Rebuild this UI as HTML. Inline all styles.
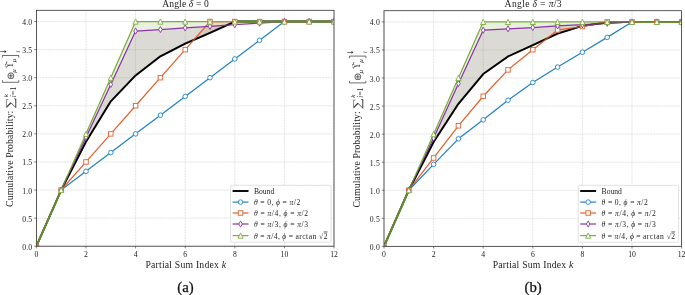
<!DOCTYPE html>
<html><head><meta charset="utf-8"><title>Figure</title>
<style>html,body{margin:0;padding:0;background:#fff}svg{display:block}</style>
</head><body>
<svg width="685" height="295" viewBox="0 0 685 295" font-family='"Liberation Serif", serif'><g>
<line x1="36.40" y1="10.3" x2="36.40" y2="246.2" stroke="#d2d2d2" stroke-width="0.6" stroke-dasharray="2.05 0.75"/>
<line x1="86.00" y1="10.3" x2="86.00" y2="246.2" stroke="#d2d2d2" stroke-width="0.6" stroke-dasharray="2.05 0.75"/>
<line x1="135.60" y1="10.3" x2="135.60" y2="246.2" stroke="#d2d2d2" stroke-width="0.6" stroke-dasharray="2.05 0.75"/>
<line x1="185.20" y1="10.3" x2="185.20" y2="246.2" stroke="#d2d2d2" stroke-width="0.6" stroke-dasharray="2.05 0.75"/>
<line x1="234.80" y1="10.3" x2="234.80" y2="246.2" stroke="#d2d2d2" stroke-width="0.6" stroke-dasharray="2.05 0.75"/>
<line x1="284.40" y1="10.3" x2="284.40" y2="246.2" stroke="#d2d2d2" stroke-width="0.6" stroke-dasharray="2.05 0.75"/>
<line x1="334.00" y1="10.3" x2="334.00" y2="246.2" stroke="#d2d2d2" stroke-width="0.6" stroke-dasharray="2.05 0.75"/>
<line x1="36.4" y1="246.20" x2="334.0" y2="246.20" stroke="#d2d2d2" stroke-width="0.6" stroke-dasharray="2.05 0.75"/>
<line x1="36.4" y1="218.12" x2="334.0" y2="218.12" stroke="#d2d2d2" stroke-width="0.6" stroke-dasharray="2.05 0.75"/>
<line x1="36.4" y1="190.03" x2="334.0" y2="190.03" stroke="#d2d2d2" stroke-width="0.6" stroke-dasharray="2.05 0.75"/>
<line x1="36.4" y1="161.95" x2="334.0" y2="161.95" stroke="#d2d2d2" stroke-width="0.6" stroke-dasharray="2.05 0.75"/>
<line x1="36.4" y1="133.87" x2="334.0" y2="133.87" stroke="#d2d2d2" stroke-width="0.6" stroke-dasharray="2.05 0.75"/>
<line x1="36.4" y1="105.78" x2="334.0" y2="105.78" stroke="#d2d2d2" stroke-width="0.6" stroke-dasharray="2.05 0.75"/>
<line x1="36.4" y1="77.70" x2="334.0" y2="77.70" stroke="#d2d2d2" stroke-width="0.6" stroke-dasharray="2.05 0.75"/>
<line x1="36.4" y1="49.62" x2="334.0" y2="49.62" stroke="#d2d2d2" stroke-width="0.6" stroke-dasharray="2.05 0.75"/>
<line x1="36.4" y1="21.53" x2="334.0" y2="21.53" stroke="#d2d2d2" stroke-width="0.6" stroke-dasharray="2.05 0.75"/>
<clipPath id="c0"><rect x="36.4" y="10.3" width="297.6" height="235.89999999999998"/></clipPath>
<g clip-path="url(#c0)">
<polygon points="193.88,39.79 210.00,21.53 234.18,21.53 234.18,21.81 210.00,32.77 193.88,39.89" fill="#e0622f" fill-opacity="0.17"/>
<polygon points="61.82,188.71 110.80,84.44 135.60,31.08 226.12,25.29 226.12,25.47 210.00,32.77 185.20,43.72 160.40,56.36 135.60,75.45 110.80,101.29 86.00,141.73 61.82,188.83" fill="#8a35a5" fill-opacity="0.135"/>
<polygon points="61.82,188.63 135.60,21.53 234.18,21.53 234.18,21.81 210.00,32.77 185.20,43.72 160.40,56.36 135.60,75.45 110.80,101.29 86.00,141.73 61.82,188.83" fill="#7aad3c" fill-opacity="0.17"/>
<polyline points="36.40,246.20 61.20,190.03 86.00,141.73 110.80,101.29 135.60,75.45 160.40,56.36 185.20,43.72 210.00,32.77 234.80,21.53 259.60,21.53 284.40,21.53 309.20,21.53 334.00,21.53" fill="none" stroke="#000" stroke-width="1.9" stroke-linejoin="round"/>
<polyline points="36.40,246.20 61.20,190.03 86.00,171.31 110.80,152.59 135.60,133.87 160.40,115.14 185.20,96.42 210.00,77.70 234.80,58.98 259.60,40.26 284.40,21.53 309.20,21.53 334.00,21.53" fill="none" stroke="#2383c6" stroke-width="1.25" stroke-linejoin="round"/>
<polyline points="36.40,246.20 61.20,190.03 86.00,161.95 110.80,133.87 135.60,105.78 160.40,77.70 185.20,49.62 210.00,21.53 234.80,21.53 259.60,21.53 284.40,21.53 309.20,21.53 334.00,21.53" fill="none" stroke="#e0622f" stroke-width="1.25" stroke-linejoin="round"/>
<polyline points="36.40,246.20 61.20,190.03 86.00,137.24 110.80,84.44 135.60,31.08 160.40,29.51 185.20,27.88 210.00,26.31 234.80,24.73 259.60,23.11 284.40,21.53 309.20,21.53 334.00,21.53" fill="none" stroke="#8a35a5" stroke-width="1.25" stroke-linejoin="round"/>
<polyline points="36.40,246.20 61.20,190.03 86.00,133.87 110.80,77.70 135.60,21.53 160.40,21.53 185.20,21.53 210.00,21.53 234.80,21.53 259.60,21.53 284.40,21.53 309.20,21.53 334.00,21.53" fill="none" stroke="#7aad3c" stroke-width="1.25" stroke-linejoin="round"/>
<line x1="36.40" y1="246.20" x2="61.20" y2="190.03" stroke="#7aad3c" stroke-width="1.95"/>
<line x1="234.80" y1="21.53" x2="334.00" y2="21.53" stroke="#7aad3c" stroke-width="1.95"/>
<polyline points="36.40,246.20 61.20,190.03 86.00,141.73 110.80,101.29 135.60,75.45 160.40,56.36 185.20,43.72 210.00,32.77 234.80,21.53 259.60,21.53 284.40,21.53 309.20,21.53 334.00,21.53" fill="none" stroke="#000" stroke-width="1.9" stroke-opacity="0.2" stroke-linejoin="round"/>
<circle cx="36.40" cy="246.20" r="2.3" fill="#fff" stroke="#2383c6" stroke-width="0.9"/>
<circle cx="61.20" cy="190.03" r="2.3" fill="#fff" stroke="#2383c6" stroke-width="0.9"/>
<circle cx="86.00" cy="171.31" r="2.3" fill="#fff" stroke="#2383c6" stroke-width="0.9"/>
<circle cx="110.80" cy="152.59" r="2.3" fill="#fff" stroke="#2383c6" stroke-width="0.9"/>
<circle cx="135.60" cy="133.87" r="2.3" fill="#fff" stroke="#2383c6" stroke-width="0.9"/>
<circle cx="160.40" cy="115.14" r="2.3" fill="#fff" stroke="#2383c6" stroke-width="0.9"/>
<circle cx="185.20" cy="96.42" r="2.3" fill="#fff" stroke="#2383c6" stroke-width="0.9"/>
<circle cx="210.00" cy="77.70" r="2.3" fill="#fff" stroke="#2383c6" stroke-width="0.9"/>
<circle cx="234.80" cy="58.98" r="2.3" fill="#fff" stroke="#2383c6" stroke-width="0.9"/>
<circle cx="259.60" cy="40.26" r="2.3" fill="#fff" stroke="#2383c6" stroke-width="0.9"/>
<circle cx="284.40" cy="21.53" r="2.3" fill="#fff" stroke="#2383c6" stroke-width="0.9"/>
<circle cx="309.20" cy="21.53" r="2.3" fill="#fff" stroke="#2383c6" stroke-width="0.9"/>
<circle cx="334.00" cy="21.53" r="2.3" fill="#fff" stroke="#2383c6" stroke-width="0.9"/>
<rect x="34.15" y="243.95" width="4.5" height="4.5" fill="#fff" stroke="#e0622f" stroke-width="0.9"/>
<rect x="58.95" y="187.78" width="4.5" height="4.5" fill="#fff" stroke="#e0622f" stroke-width="0.9"/>
<rect x="83.75" y="159.70" width="4.5" height="4.5" fill="#fff" stroke="#e0622f" stroke-width="0.9"/>
<rect x="108.55" y="131.62" width="4.5" height="4.5" fill="#fff" stroke="#e0622f" stroke-width="0.9"/>
<rect x="133.35" y="103.53" width="4.5" height="4.5" fill="#fff" stroke="#e0622f" stroke-width="0.9"/>
<rect x="158.15" y="75.45" width="4.5" height="4.5" fill="#fff" stroke="#e0622f" stroke-width="0.9"/>
<rect x="182.95" y="47.37" width="4.5" height="4.5" fill="#fff" stroke="#e0622f" stroke-width="0.9"/>
<rect x="207.75" y="19.28" width="4.5" height="4.5" fill="#fff" stroke="#e0622f" stroke-width="0.9"/>
<rect x="232.55" y="19.28" width="4.5" height="4.5" fill="#fff" stroke="#e0622f" stroke-width="0.9"/>
<rect x="257.35" y="19.28" width="4.5" height="4.5" fill="#fff" stroke="#e0622f" stroke-width="0.9"/>
<rect x="282.15" y="19.28" width="4.5" height="4.5" fill="#fff" stroke="#e0622f" stroke-width="0.9"/>
<rect x="306.95" y="19.28" width="4.5" height="4.5" fill="#fff" stroke="#e0622f" stroke-width="0.9"/>
<rect x="331.75" y="19.28" width="4.5" height="4.5" fill="#fff" stroke="#e0622f" stroke-width="0.9"/>
<path d="M36.40 243.15L38.15 246.20L36.40 249.25L34.65 246.20Z" fill="#fff" stroke="#8a35a5" stroke-width="0.9" stroke-linejoin="miter"/>
<path d="M61.20 186.98L62.95 190.03L61.20 193.08L59.45 190.03Z" fill="#fff" stroke="#8a35a5" stroke-width="0.9" stroke-linejoin="miter"/>
<path d="M86.00 134.19L87.75 137.24L86.00 140.29L84.25 137.24Z" fill="#fff" stroke="#8a35a5" stroke-width="0.9" stroke-linejoin="miter"/>
<path d="M110.80 81.39L112.55 84.44L110.80 87.49L109.05 84.44Z" fill="#fff" stroke="#8a35a5" stroke-width="0.9" stroke-linejoin="miter"/>
<path d="M135.60 28.03L137.35 31.08L135.60 34.13L133.85 31.08Z" fill="#fff" stroke="#8a35a5" stroke-width="0.9" stroke-linejoin="miter"/>
<path d="M160.40 26.46L162.15 29.51L160.40 32.56L158.65 29.51Z" fill="#fff" stroke="#8a35a5" stroke-width="0.9" stroke-linejoin="miter"/>
<path d="M185.20 24.83L186.95 27.88L185.20 30.93L183.45 27.88Z" fill="#fff" stroke="#8a35a5" stroke-width="0.9" stroke-linejoin="miter"/>
<path d="M210.00 23.26L211.75 26.31L210.00 29.36L208.25 26.31Z" fill="#fff" stroke="#8a35a5" stroke-width="0.9" stroke-linejoin="miter"/>
<path d="M234.80 21.68L236.55 24.73L234.80 27.78L233.05 24.73Z" fill="#fff" stroke="#8a35a5" stroke-width="0.9" stroke-linejoin="miter"/>
<path d="M259.60 20.06L261.35 23.11L259.60 26.16L257.85 23.11Z" fill="#fff" stroke="#8a35a5" stroke-width="0.9" stroke-linejoin="miter"/>
<path d="M284.40 18.48L286.15 21.53L284.40 24.58L282.65 21.53Z" fill="#fff" stroke="#8a35a5" stroke-width="0.9" stroke-linejoin="miter"/>
<path d="M309.20 18.48L310.95 21.53L309.20 24.58L307.45 21.53Z" fill="#fff" stroke="#8a35a5" stroke-width="0.9" stroke-linejoin="miter"/>
<path d="M334.00 18.48L335.75 21.53L334.00 24.58L332.25 21.53Z" fill="#fff" stroke="#8a35a5" stroke-width="0.9" stroke-linejoin="miter"/>
<path d="M36.40 243.60L39.00 248.80L33.80 248.80Z" fill="#fff" stroke="#7aad3c" stroke-width="0.9" stroke-linejoin="miter"/>
<path d="M61.20 187.43L63.80 192.63L58.60 192.63Z" fill="#fff" stroke="#7aad3c" stroke-width="0.9" stroke-linejoin="miter"/>
<path d="M86.00 131.27L88.60 136.47L83.40 136.47Z" fill="#fff" stroke="#7aad3c" stroke-width="0.9" stroke-linejoin="miter"/>
<path d="M110.80 75.10L113.40 80.30L108.20 80.30Z" fill="#fff" stroke="#7aad3c" stroke-width="0.9" stroke-linejoin="miter"/>
<path d="M135.60 18.93L138.20 24.13L133.00 24.13Z" fill="#fff" stroke="#7aad3c" stroke-width="0.9" stroke-linejoin="miter"/>
<path d="M160.40 18.93L163.00 24.13L157.80 24.13Z" fill="#fff" stroke="#7aad3c" stroke-width="0.9" stroke-linejoin="miter"/>
<path d="M185.20 18.93L187.80 24.13L182.60 24.13Z" fill="#fff" stroke="#7aad3c" stroke-width="0.9" stroke-linejoin="miter"/>
<path d="M210.00 18.93L212.60 24.13L207.40 24.13Z" fill="#fff" stroke="#7aad3c" stroke-width="0.9" stroke-linejoin="miter"/>
<path d="M234.80 18.93L237.40 24.13L232.20 24.13Z" fill="#fff" stroke="#7aad3c" stroke-width="0.9" stroke-linejoin="miter"/>
<path d="M259.60 18.93L262.20 24.13L257.00 24.13Z" fill="#fff" stroke="#7aad3c" stroke-width="0.9" stroke-linejoin="miter"/>
<path d="M284.40 18.93L287.00 24.13L281.80 24.13Z" fill="#fff" stroke="#7aad3c" stroke-width="0.9" stroke-linejoin="miter"/>
<path d="M309.20 18.93L311.80 24.13L306.60 24.13Z" fill="#fff" stroke="#7aad3c" stroke-width="0.9" stroke-linejoin="miter"/>
<path d="M334.00 18.93L336.60 24.13L331.40 24.13Z" fill="#fff" stroke="#7aad3c" stroke-width="0.9" stroke-linejoin="miter"/>
</g>
<rect x="36.4" y="10.3" width="297.6" height="235.89999999999998" fill="none" stroke="#333" stroke-width="0.8"/>
<line x1="36.40" y1="246.2" x2="36.40" y2="248.40" stroke="#333" stroke-width="0.6"/>
<text x="36.40" y="256.50" font-size="7.7" text-anchor="middle" fill="#222">0</text>
<line x1="86.00" y1="246.2" x2="86.00" y2="248.40" stroke="#333" stroke-width="0.6"/>
<text x="86.00" y="256.50" font-size="7.7" text-anchor="middle" fill="#222">2</text>
<line x1="135.60" y1="246.2" x2="135.60" y2="248.40" stroke="#333" stroke-width="0.6"/>
<text x="135.60" y="256.50" font-size="7.7" text-anchor="middle" fill="#222">4</text>
<line x1="185.20" y1="246.2" x2="185.20" y2="248.40" stroke="#333" stroke-width="0.6"/>
<text x="185.20" y="256.50" font-size="7.7" text-anchor="middle" fill="#222">6</text>
<line x1="234.80" y1="246.2" x2="234.80" y2="248.40" stroke="#333" stroke-width="0.6"/>
<text x="234.80" y="256.50" font-size="7.7" text-anchor="middle" fill="#222">8</text>
<line x1="284.40" y1="246.2" x2="284.40" y2="248.40" stroke="#333" stroke-width="0.6"/>
<text x="284.40" y="256.50" font-size="7.7" text-anchor="middle" fill="#222">10</text>
<line x1="334.00" y1="246.2" x2="334.00" y2="248.40" stroke="#333" stroke-width="0.6"/>
<text x="334.00" y="256.50" font-size="7.7" text-anchor="middle" fill="#222">12</text>
<line x1="34.199999999999996" y1="246.20" x2="36.4" y2="246.20" stroke="#333" stroke-width="0.6"/>
<text x="22.20" y="249.70" font-size="7.7" fill="#222" textLength="10.0" lengthAdjust="spacing">0.0</text>
<line x1="34.199999999999996" y1="218.12" x2="36.4" y2="218.12" stroke="#333" stroke-width="0.6"/>
<text x="22.20" y="221.62" font-size="7.7" fill="#222" textLength="10.0" lengthAdjust="spacing">0.5</text>
<line x1="34.199999999999996" y1="190.03" x2="36.4" y2="190.03" stroke="#333" stroke-width="0.6"/>
<text x="22.20" y="193.53" font-size="7.7" fill="#222" textLength="10.0" lengthAdjust="spacing">1.0</text>
<line x1="34.199999999999996" y1="161.95" x2="36.4" y2="161.95" stroke="#333" stroke-width="0.6"/>
<text x="22.20" y="165.45" font-size="7.7" fill="#222" textLength="10.0" lengthAdjust="spacing">1.5</text>
<line x1="34.199999999999996" y1="133.87" x2="36.4" y2="133.87" stroke="#333" stroke-width="0.6"/>
<text x="22.20" y="137.37" font-size="7.7" fill="#222" textLength="10.0" lengthAdjust="spacing">2.0</text>
<line x1="34.199999999999996" y1="105.78" x2="36.4" y2="105.78" stroke="#333" stroke-width="0.6"/>
<text x="22.20" y="109.28" font-size="7.7" fill="#222" textLength="10.0" lengthAdjust="spacing">2.5</text>
<line x1="34.199999999999996" y1="77.70" x2="36.4" y2="77.70" stroke="#333" stroke-width="0.6"/>
<text x="22.20" y="81.20" font-size="7.7" fill="#222" textLength="10.0" lengthAdjust="spacing">3.0</text>
<line x1="34.199999999999996" y1="49.62" x2="36.4" y2="49.62" stroke="#333" stroke-width="0.6"/>
<text x="22.20" y="53.12" font-size="7.7" fill="#222" textLength="10.0" lengthAdjust="spacing">3.5</text>
<line x1="34.199999999999996" y1="21.53" x2="36.4" y2="21.53" stroke="#333" stroke-width="0.6"/>
<text x="22.20" y="25.03" font-size="7.7" fill="#222" textLength="10.0" lengthAdjust="spacing">4.0</text>
<text x="185.50" y="6.8" font-size="9.6" text-anchor="middle" fill="#222" textLength="46.7" lengthAdjust="spacing">Angle <tspan font-style="italic">δ</tspan> = 0</text>
<text x="185.70" y="267.5" font-size="9.7" text-anchor="middle" fill="#222" textLength="80.6" lengthAdjust="spacing">Partial Sum Index <tspan font-style="italic">k</tspan></text>
<g transform="translate(12.80,206.9) rotate(-90)" fill="#222" font-size="9.7">
<text x="0" y="0" textLength="96.2" lengthAdjust="spacing">Cumulative Probability:</text>
<text transform="translate(98.5,0.7) scale(1.42,1.04)" font-size="11.2" fill="#3a3a3a">∑</text>
<text x="109.7" y="-4.9" font-size="7.0" font-style="italic">k</text>
<text x="109.7" y="3.3" font-size="7.2" textLength="10.2" lengthAdjust="spacing"><tspan font-style="italic">i</tspan>=1</text>
<path d="M126.7 -10.4h-2.1v16.4h2.1M149.3 -10.4h2.1v16.4h-2.1" fill="none" stroke="#222" stroke-width="0.65"/>
<text x="126.5" y="1.3" font-size="10.2" fill="#444">⊕</text>
<text x="134.1" y="2.7" font-size="7.0" font-style="italic">μ</text>
<text x="138.3" y="0.1" font-size="9.4">ϒ</text>
<text x="138.5" y="-5.8" font-size="6.4">→</text>
<text x="144.70000000000002" y="2.7" font-size="7.0" font-style="italic">μ</text>
<text x="152.8" y="-6.6" font-size="9.5" stroke="#222" stroke-width="0.25">↓</text>
<text x="154.20000000000002" y="7.0" font-size="7.0" font-style="italic">i</text>
</g>
<rect x="230.60" y="185.3" width="100.4" height="56.9" rx="1.4" fill="#fff" fill-opacity="0.9" stroke="#ccc" stroke-width="0.6"/>
<line x1="232.60" y1="191.0" x2="248.50" y2="191.0" stroke="#000" stroke-width="1.9"/>
<text x="254.00" y="194.0" font-size="7.6" fill="#222" textLength="20.2" lengthAdjust="spacing">Bound</text>
<g><line x1="232.60" y1="202.1" x2="248.50" y2="202.1" stroke="#2383c6" stroke-width="1.2"/>
<circle cx="240.55" cy="202.10" r="2.3" fill="#fff" stroke="#2383c6" stroke-width="0.9"/></g>
<text x="254.00" y="205.1" font-size="7.6" fill="#222" textLength="46.2" lengthAdjust="spacing"><tspan font-style="italic">θ</tspan> = 0, <tspan font-style="italic">ϕ</tspan> = <tspan font-style="italic">π</tspan>/2</text>
<g><line x1="232.60" y1="213.0" x2="248.50" y2="213.0" stroke="#e0622f" stroke-width="1.2"/>
<rect x="238.30" y="210.75" width="4.5" height="4.5" fill="#fff" stroke="#e0622f" stroke-width="0.9"/></g>
<text x="254.00" y="216.0" font-size="7.6" fill="#222" textLength="54.1" lengthAdjust="spacing"><tspan font-style="italic">θ</tspan> = <tspan font-style="italic">π</tspan>/4, <tspan font-style="italic">ϕ</tspan> = <tspan font-style="italic">π</tspan>/2</text>
<g><line x1="232.60" y1="224.0" x2="248.50" y2="224.0" stroke="#8a35a5" stroke-width="1.2"/>
<path d="M240.55 220.95L242.30 224.00L240.55 227.05L238.80 224.00Z" fill="#fff" stroke="#8a35a5" stroke-width="0.9" stroke-linejoin="miter"/></g>
<text x="254.00" y="227.0" font-size="7.6" fill="#222" textLength="54.1" lengthAdjust="spacing"><tspan font-style="italic">θ</tspan> = <tspan font-style="italic">π</tspan>/3, <tspan font-style="italic">ϕ</tspan> = <tspan font-style="italic">π</tspan>/3</text>
<g><line x1="232.60" y1="235.6" x2="248.50" y2="235.6" stroke="#7aad3c" stroke-width="1.2"/>
<path d="M240.55 233.00L243.15 238.20L237.95 238.20Z" fill="#fff" stroke="#7aad3c" stroke-width="0.9" stroke-linejoin="miter"/></g>
<text x="254.00" y="238.6" font-size="7.6" fill="#222" textLength="73.5" lengthAdjust="spacing"><tspan font-style="italic">θ</tspan> = <tspan font-style="italic">π</tspan>/4, <tspan font-style="italic">ϕ</tspan> = arctan √<tspan text-decoration="overline">2</tspan></text>
<text x="185.50" y="292.3" font-size="14.8" text-anchor="middle" fill="#111" stroke="#111" stroke-width="0.25">(a)</text>
</g>
<g>
<line x1="384.00" y1="10.7" x2="384.00" y2="246.35" stroke="#d2d2d2" stroke-width="0.6" stroke-dasharray="2.05 0.75"/>
<line x1="433.60" y1="10.7" x2="433.60" y2="246.35" stroke="#d2d2d2" stroke-width="0.6" stroke-dasharray="2.05 0.75"/>
<line x1="483.20" y1="10.7" x2="483.20" y2="246.35" stroke="#d2d2d2" stroke-width="0.6" stroke-dasharray="2.05 0.75"/>
<line x1="532.80" y1="10.7" x2="532.80" y2="246.35" stroke="#d2d2d2" stroke-width="0.6" stroke-dasharray="2.05 0.75"/>
<line x1="582.40" y1="10.7" x2="582.40" y2="246.35" stroke="#d2d2d2" stroke-width="0.6" stroke-dasharray="2.05 0.75"/>
<line x1="632.00" y1="10.7" x2="632.00" y2="246.35" stroke="#d2d2d2" stroke-width="0.6" stroke-dasharray="2.05 0.75"/>
<line x1="681.60" y1="10.7" x2="681.60" y2="246.35" stroke="#d2d2d2" stroke-width="0.6" stroke-dasharray="2.05 0.75"/>
<line x1="384.0" y1="246.35" x2="681.6" y2="246.35" stroke="#d2d2d2" stroke-width="0.6" stroke-dasharray="2.05 0.75"/>
<line x1="384.0" y1="218.30" x2="681.6" y2="218.30" stroke="#d2d2d2" stroke-width="0.6" stroke-dasharray="2.05 0.75"/>
<line x1="384.0" y1="190.24" x2="681.6" y2="190.24" stroke="#d2d2d2" stroke-width="0.6" stroke-dasharray="2.05 0.75"/>
<line x1="384.0" y1="162.19" x2="681.6" y2="162.19" stroke="#d2d2d2" stroke-width="0.6" stroke-dasharray="2.05 0.75"/>
<line x1="384.0" y1="134.14" x2="681.6" y2="134.14" stroke="#d2d2d2" stroke-width="0.6" stroke-dasharray="2.05 0.75"/>
<line x1="384.0" y1="106.08" x2="681.6" y2="106.08" stroke="#d2d2d2" stroke-width="0.6" stroke-dasharray="2.05 0.75"/>
<line x1="384.0" y1="78.03" x2="681.6" y2="78.03" stroke="#d2d2d2" stroke-width="0.6" stroke-dasharray="2.05 0.75"/>
<line x1="384.0" y1="49.97" x2="681.6" y2="49.97" stroke="#d2d2d2" stroke-width="0.6" stroke-dasharray="2.05 0.75"/>
<line x1="384.0" y1="21.92" x2="681.6" y2="21.92" stroke="#d2d2d2" stroke-width="0.6" stroke-dasharray="2.05 0.75"/>
<clipPath id="c1"><rect x="384.0" y="10.7" width="297.6" height="235.65"/></clipPath>
<g clip-path="url(#c1)">
<polygon points="546.44,38.83 557.60,29.94 578.06,27.12 578.06,27.22 557.60,33.70 546.44,38.88" fill="#e0622f" fill-opacity="0.17"/>
<polygon points="596.04,23.99 607.20,21.92 631.38,21.92 631.38,21.94 607.20,22.48 596.04,24.00" fill="#e0622f" fill-opacity="0.17"/>
<polygon points="409.42,188.94 433.60,138.06 458.40,83.64 483.20,30.17 532.80,27.53 557.60,25.85 582.40,24.73 596.04,23.96 596.04,24.00 582.40,25.85 557.60,33.70 532.80,45.21 508.00,56.43 483.20,74.10 458.40,103.84 433.60,141.99 409.42,189.04" fill="#8a35a5" fill-opacity="0.135"/>
<polygon points="409.42,188.84 483.20,21.92 631.38,21.92 631.38,21.94 607.20,22.48 582.40,25.85 557.60,33.70 532.80,45.21 508.00,56.43 483.20,74.10 458.40,103.84 433.60,141.99 409.42,189.04" fill="#7aad3c" fill-opacity="0.17"/>
<polyline points="384.00,246.35 408.80,190.24 433.60,141.99 458.40,103.84 483.20,74.10 508.00,56.43 532.80,45.21 557.60,33.70 582.40,25.85 607.20,22.48 632.00,21.92 656.80,21.92 681.60,21.92" fill="none" stroke="#000" stroke-width="1.9" stroke-linejoin="round"/>
<polyline points="384.00,246.35 408.80,190.24 433.60,164.32 458.40,138.85 483.20,119.83 508.00,100.19 532.80,82.52 557.60,67.09 582.40,52.22 607.20,37.35 632.00,21.92 656.80,21.92 681.60,21.92" fill="none" stroke="#2383c6" stroke-width="1.25" stroke-linejoin="round"/>
<polyline points="384.00,246.35 408.80,190.24 433.60,157.98 458.40,125.78 483.20,96.26 508.00,69.89 532.80,49.69 557.60,29.94 582.40,26.52 607.20,21.92 632.00,21.92 656.80,21.92 681.60,21.92" fill="none" stroke="#e0622f" stroke-width="1.25" stroke-linejoin="round"/>
<polyline points="384.00,246.35 408.80,190.24 433.60,138.06 458.40,83.64 483.20,30.17 508.00,28.82 532.80,27.53 557.60,25.85 582.40,24.73 607.20,23.32 632.00,21.92 656.80,21.92 681.60,21.92" fill="none" stroke="#8a35a5" stroke-width="1.25" stroke-linejoin="round"/>
<polyline points="384.00,246.35 408.80,190.24 433.60,134.14 458.40,78.03 483.20,21.92 508.00,21.92 532.80,21.92 557.60,21.92 582.40,21.92 607.20,21.92 632.00,21.92 656.80,21.92 681.60,21.92" fill="none" stroke="#7aad3c" stroke-width="1.25" stroke-linejoin="round"/>
<line x1="384.00" y1="246.35" x2="408.80" y2="190.24" stroke="#7aad3c" stroke-width="1.95"/>
<line x1="632.00" y1="21.92" x2="681.60" y2="21.92" stroke="#7aad3c" stroke-width="1.95"/>
<polyline points="384.00,246.35 408.80,190.24 433.60,141.99 458.40,103.84 483.20,74.10 508.00,56.43 532.80,45.21 557.60,33.70 582.40,25.85 607.20,22.48 632.00,21.92 656.80,21.92 681.60,21.92" fill="none" stroke="#000" stroke-width="1.9" stroke-opacity="0.2" stroke-linejoin="round"/>
<circle cx="384.00" cy="246.35" r="2.3" fill="#fff" stroke="#2383c6" stroke-width="0.9"/>
<circle cx="408.80" cy="190.24" r="2.3" fill="#fff" stroke="#2383c6" stroke-width="0.9"/>
<circle cx="433.60" cy="164.32" r="2.3" fill="#fff" stroke="#2383c6" stroke-width="0.9"/>
<circle cx="458.40" cy="138.85" r="2.3" fill="#fff" stroke="#2383c6" stroke-width="0.9"/>
<circle cx="483.20" cy="119.83" r="2.3" fill="#fff" stroke="#2383c6" stroke-width="0.9"/>
<circle cx="508.00" cy="100.19" r="2.3" fill="#fff" stroke="#2383c6" stroke-width="0.9"/>
<circle cx="532.80" cy="82.52" r="2.3" fill="#fff" stroke="#2383c6" stroke-width="0.9"/>
<circle cx="557.60" cy="67.09" r="2.3" fill="#fff" stroke="#2383c6" stroke-width="0.9"/>
<circle cx="582.40" cy="52.22" r="2.3" fill="#fff" stroke="#2383c6" stroke-width="0.9"/>
<circle cx="607.20" cy="37.35" r="2.3" fill="#fff" stroke="#2383c6" stroke-width="0.9"/>
<circle cx="632.00" cy="21.92" r="2.3" fill="#fff" stroke="#2383c6" stroke-width="0.9"/>
<circle cx="656.80" cy="21.92" r="2.3" fill="#fff" stroke="#2383c6" stroke-width="0.9"/>
<circle cx="681.60" cy="21.92" r="2.3" fill="#fff" stroke="#2383c6" stroke-width="0.9"/>
<rect x="381.75" y="244.10" width="4.5" height="4.5" fill="#fff" stroke="#e0622f" stroke-width="0.9"/>
<rect x="406.55" y="187.99" width="4.5" height="4.5" fill="#fff" stroke="#e0622f" stroke-width="0.9"/>
<rect x="431.35" y="155.73" width="4.5" height="4.5" fill="#fff" stroke="#e0622f" stroke-width="0.9"/>
<rect x="456.15" y="123.53" width="4.5" height="4.5" fill="#fff" stroke="#e0622f" stroke-width="0.9"/>
<rect x="480.95" y="94.01" width="4.5" height="4.5" fill="#fff" stroke="#e0622f" stroke-width="0.9"/>
<rect x="505.75" y="67.64" width="4.5" height="4.5" fill="#fff" stroke="#e0622f" stroke-width="0.9"/>
<rect x="530.55" y="47.44" width="4.5" height="4.5" fill="#fff" stroke="#e0622f" stroke-width="0.9"/>
<rect x="555.35" y="27.69" width="4.5" height="4.5" fill="#fff" stroke="#e0622f" stroke-width="0.9"/>
<rect x="580.15" y="24.27" width="4.5" height="4.5" fill="#fff" stroke="#e0622f" stroke-width="0.9"/>
<rect x="604.95" y="19.67" width="4.5" height="4.5" fill="#fff" stroke="#e0622f" stroke-width="0.9"/>
<rect x="629.75" y="19.67" width="4.5" height="4.5" fill="#fff" stroke="#e0622f" stroke-width="0.9"/>
<rect x="654.55" y="19.67" width="4.5" height="4.5" fill="#fff" stroke="#e0622f" stroke-width="0.9"/>
<rect x="679.35" y="19.67" width="4.5" height="4.5" fill="#fff" stroke="#e0622f" stroke-width="0.9"/>
<path d="M384.00 243.30L385.75 246.35L384.00 249.40L382.25 246.35Z" fill="#fff" stroke="#8a35a5" stroke-width="0.9" stroke-linejoin="miter"/>
<path d="M408.80 187.19L410.55 190.24L408.80 193.29L407.05 190.24Z" fill="#fff" stroke="#8a35a5" stroke-width="0.9" stroke-linejoin="miter"/>
<path d="M433.60 135.01L435.35 138.06L433.60 141.11L431.85 138.06Z" fill="#fff" stroke="#8a35a5" stroke-width="0.9" stroke-linejoin="miter"/>
<path d="M458.40 80.59L460.15 83.64L458.40 86.69L456.65 83.64Z" fill="#fff" stroke="#8a35a5" stroke-width="0.9" stroke-linejoin="miter"/>
<path d="M483.20 27.12L484.95 30.17L483.20 33.22L481.45 30.17Z" fill="#fff" stroke="#8a35a5" stroke-width="0.9" stroke-linejoin="miter"/>
<path d="M508.00 25.77L509.75 28.82L508.00 31.87L506.25 28.82Z" fill="#fff" stroke="#8a35a5" stroke-width="0.9" stroke-linejoin="miter"/>
<path d="M532.80 24.48L534.55 27.53L532.80 30.58L531.05 27.53Z" fill="#fff" stroke="#8a35a5" stroke-width="0.9" stroke-linejoin="miter"/>
<path d="M557.60 22.80L559.35 25.85L557.60 28.90L555.85 25.85Z" fill="#fff" stroke="#8a35a5" stroke-width="0.9" stroke-linejoin="miter"/>
<path d="M582.40 21.68L584.15 24.73L582.40 27.78L580.65 24.73Z" fill="#fff" stroke="#8a35a5" stroke-width="0.9" stroke-linejoin="miter"/>
<path d="M607.20 20.27L608.95 23.32L607.20 26.37L605.45 23.32Z" fill="#fff" stroke="#8a35a5" stroke-width="0.9" stroke-linejoin="miter"/>
<path d="M632.00 18.87L633.75 21.92L632.00 24.97L630.25 21.92Z" fill="#fff" stroke="#8a35a5" stroke-width="0.9" stroke-linejoin="miter"/>
<path d="M656.80 18.87L658.55 21.92L656.80 24.97L655.05 21.92Z" fill="#fff" stroke="#8a35a5" stroke-width="0.9" stroke-linejoin="miter"/>
<path d="M681.60 18.87L683.35 21.92L681.60 24.97L679.85 21.92Z" fill="#fff" stroke="#8a35a5" stroke-width="0.9" stroke-linejoin="miter"/>
<path d="M384.00 243.75L386.60 248.95L381.40 248.95Z" fill="#fff" stroke="#7aad3c" stroke-width="0.9" stroke-linejoin="miter"/>
<path d="M408.80 187.64L411.40 192.84L406.20 192.84Z" fill="#fff" stroke="#7aad3c" stroke-width="0.9" stroke-linejoin="miter"/>
<path d="M433.60 131.54L436.20 136.74L431.00 136.74Z" fill="#fff" stroke="#7aad3c" stroke-width="0.9" stroke-linejoin="miter"/>
<path d="M458.40 75.43L461.00 80.63L455.80 80.63Z" fill="#fff" stroke="#7aad3c" stroke-width="0.9" stroke-linejoin="miter"/>
<path d="M483.20 19.32L485.80 24.52L480.60 24.52Z" fill="#fff" stroke="#7aad3c" stroke-width="0.9" stroke-linejoin="miter"/>
<path d="M508.00 19.32L510.60 24.52L505.40 24.52Z" fill="#fff" stroke="#7aad3c" stroke-width="0.9" stroke-linejoin="miter"/>
<path d="M532.80 19.32L535.40 24.52L530.20 24.52Z" fill="#fff" stroke="#7aad3c" stroke-width="0.9" stroke-linejoin="miter"/>
<path d="M557.60 19.32L560.20 24.52L555.00 24.52Z" fill="#fff" stroke="#7aad3c" stroke-width="0.9" stroke-linejoin="miter"/>
<path d="M582.40 19.32L585.00 24.52L579.80 24.52Z" fill="#fff" stroke="#7aad3c" stroke-width="0.9" stroke-linejoin="miter"/>
<path d="M607.20 19.32L609.80 24.52L604.60 24.52Z" fill="#fff" stroke="#7aad3c" stroke-width="0.9" stroke-linejoin="miter"/>
<path d="M632.00 19.32L634.60 24.52L629.40 24.52Z" fill="#fff" stroke="#7aad3c" stroke-width="0.9" stroke-linejoin="miter"/>
<path d="M656.80 19.32L659.40 24.52L654.20 24.52Z" fill="#fff" stroke="#7aad3c" stroke-width="0.9" stroke-linejoin="miter"/>
<path d="M681.60 19.32L684.20 24.52L679.00 24.52Z" fill="#fff" stroke="#7aad3c" stroke-width="0.9" stroke-linejoin="miter"/>
</g>
<rect x="384.0" y="10.7" width="297.6" height="235.65" fill="none" stroke="#333" stroke-width="0.8"/>
<line x1="384.00" y1="246.35" x2="384.00" y2="248.55" stroke="#333" stroke-width="0.6"/>
<text x="384.00" y="256.65" font-size="7.7" text-anchor="middle" fill="#222">0</text>
<line x1="433.60" y1="246.35" x2="433.60" y2="248.55" stroke="#333" stroke-width="0.6"/>
<text x="433.60" y="256.65" font-size="7.7" text-anchor="middle" fill="#222">2</text>
<line x1="483.20" y1="246.35" x2="483.20" y2="248.55" stroke="#333" stroke-width="0.6"/>
<text x="483.20" y="256.65" font-size="7.7" text-anchor="middle" fill="#222">4</text>
<line x1="532.80" y1="246.35" x2="532.80" y2="248.55" stroke="#333" stroke-width="0.6"/>
<text x="532.80" y="256.65" font-size="7.7" text-anchor="middle" fill="#222">6</text>
<line x1="582.40" y1="246.35" x2="582.40" y2="248.55" stroke="#333" stroke-width="0.6"/>
<text x="582.40" y="256.65" font-size="7.7" text-anchor="middle" fill="#222">8</text>
<line x1="632.00" y1="246.35" x2="632.00" y2="248.55" stroke="#333" stroke-width="0.6"/>
<text x="632.00" y="256.65" font-size="7.7" text-anchor="middle" fill="#222">10</text>
<line x1="681.60" y1="246.35" x2="681.60" y2="248.55" stroke="#333" stroke-width="0.6"/>
<text x="681.60" y="256.65" font-size="7.7" text-anchor="middle" fill="#222">12</text>
<line x1="381.8" y1="246.35" x2="384.0" y2="246.35" stroke="#333" stroke-width="0.6"/>
<text x="369.80" y="249.85" font-size="7.7" fill="#222" textLength="10.0" lengthAdjust="spacing">0.0</text>
<line x1="381.8" y1="218.30" x2="384.0" y2="218.30" stroke="#333" stroke-width="0.6"/>
<text x="369.80" y="221.80" font-size="7.7" fill="#222" textLength="10.0" lengthAdjust="spacing">0.5</text>
<line x1="381.8" y1="190.24" x2="384.0" y2="190.24" stroke="#333" stroke-width="0.6"/>
<text x="369.80" y="193.74" font-size="7.7" fill="#222" textLength="10.0" lengthAdjust="spacing">1.0</text>
<line x1="381.8" y1="162.19" x2="384.0" y2="162.19" stroke="#333" stroke-width="0.6"/>
<text x="369.80" y="165.69" font-size="7.7" fill="#222" textLength="10.0" lengthAdjust="spacing">1.5</text>
<line x1="381.8" y1="134.14" x2="384.0" y2="134.14" stroke="#333" stroke-width="0.6"/>
<text x="369.80" y="137.64" font-size="7.7" fill="#222" textLength="10.0" lengthAdjust="spacing">2.0</text>
<line x1="381.8" y1="106.08" x2="384.0" y2="106.08" stroke="#333" stroke-width="0.6"/>
<text x="369.80" y="109.58" font-size="7.7" fill="#222" textLength="10.0" lengthAdjust="spacing">2.5</text>
<line x1="381.8" y1="78.03" x2="384.0" y2="78.03" stroke="#333" stroke-width="0.6"/>
<text x="369.80" y="81.53" font-size="7.7" fill="#222" textLength="10.0" lengthAdjust="spacing">3.0</text>
<line x1="381.8" y1="49.97" x2="384.0" y2="49.97" stroke="#333" stroke-width="0.6"/>
<text x="369.80" y="53.47" font-size="7.7" fill="#222" textLength="10.0" lengthAdjust="spacing">3.5</text>
<line x1="381.8" y1="21.92" x2="384.0" y2="21.92" stroke="#333" stroke-width="0.6"/>
<text x="369.80" y="25.42" font-size="7.7" fill="#222" textLength="10.0" lengthAdjust="spacing">4.0</text>
<text x="533.10" y="6.8" font-size="9.6" text-anchor="middle" fill="#222" textLength="57.0" lengthAdjust="spacing">Angle <tspan font-style="italic">δ</tspan> = <tspan font-style="italic">π</tspan>/3</text>
<text x="533.00" y="267.5" font-size="9.7" text-anchor="middle" fill="#222" textLength="80.6" lengthAdjust="spacing">Partial Sum Index <tspan font-style="italic">k</tspan></text>
<g transform="translate(359.90,207.5) rotate(-90)" fill="#222" font-size="9.7">
<text x="0" y="0" textLength="96.2" lengthAdjust="spacing">Cumulative Probability:</text>
<text transform="translate(98.5,0.7) scale(1.42,1.04)" font-size="11.2" fill="#3a3a3a">∑</text>
<text x="109.7" y="-4.9" font-size="7.0" font-style="italic">k</text>
<text x="109.7" y="3.3" font-size="7.2" textLength="10.2" lengthAdjust="spacing"><tspan font-style="italic">i</tspan>=1</text>
<path d="M126.7 -10.4h-2.1v16.4h2.1M149.3 -10.4h2.1v16.4h-2.1" fill="none" stroke="#222" stroke-width="0.65"/>
<text x="126.5" y="1.3" font-size="10.2" fill="#444">⊕</text>
<text x="134.1" y="2.7" font-size="7.0" font-style="italic">μ</text>
<text x="138.3" y="0.1" font-size="9.4">ϒ</text>
<text x="138.5" y="-5.8" font-size="6.4">→</text>
<text x="144.70000000000002" y="2.7" font-size="7.0" font-style="italic">μ</text>
<text x="152.8" y="-6.6" font-size="9.5" stroke="#222" stroke-width="0.25">↓</text>
<text x="154.20000000000002" y="7.0" font-size="7.0" font-style="italic">i</text>
</g>
<rect x="578.20" y="185.3" width="100.4" height="56.9" rx="1.4" fill="#fff" fill-opacity="0.9" stroke="#ccc" stroke-width="0.6"/>
<line x1="580.20" y1="191.0" x2="596.10" y2="191.0" stroke="#000" stroke-width="1.9"/>
<text x="601.60" y="194.0" font-size="7.6" fill="#222" textLength="20.2" lengthAdjust="spacing">Bound</text>
<g><line x1="580.20" y1="202.1" x2="596.10" y2="202.1" stroke="#2383c6" stroke-width="1.2"/>
<circle cx="588.15" cy="202.10" r="2.3" fill="#fff" stroke="#2383c6" stroke-width="0.9"/></g>
<text x="601.60" y="205.1" font-size="7.6" fill="#222" textLength="46.2" lengthAdjust="spacing"><tspan font-style="italic">θ</tspan> = 0, <tspan font-style="italic">ϕ</tspan> = <tspan font-style="italic">π</tspan>/2</text>
<g><line x1="580.20" y1="213.0" x2="596.10" y2="213.0" stroke="#e0622f" stroke-width="1.2"/>
<rect x="585.90" y="210.75" width="4.5" height="4.5" fill="#fff" stroke="#e0622f" stroke-width="0.9"/></g>
<text x="601.60" y="216.0" font-size="7.6" fill="#222" textLength="54.1" lengthAdjust="spacing"><tspan font-style="italic">θ</tspan> = <tspan font-style="italic">π</tspan>/4, <tspan font-style="italic">ϕ</tspan> = <tspan font-style="italic">π</tspan>/2</text>
<g><line x1="580.20" y1="224.0" x2="596.10" y2="224.0" stroke="#8a35a5" stroke-width="1.2"/>
<path d="M588.15 220.95L589.90 224.00L588.15 227.05L586.40 224.00Z" fill="#fff" stroke="#8a35a5" stroke-width="0.9" stroke-linejoin="miter"/></g>
<text x="601.60" y="227.0" font-size="7.6" fill="#222" textLength="54.1" lengthAdjust="spacing"><tspan font-style="italic">θ</tspan> = <tspan font-style="italic">π</tspan>/3, <tspan font-style="italic">ϕ</tspan> = <tspan font-style="italic">π</tspan>/3</text>
<g><line x1="580.20" y1="235.6" x2="596.10" y2="235.6" stroke="#7aad3c" stroke-width="1.2"/>
<path d="M588.15 233.00L590.75 238.20L585.55 238.20Z" fill="#fff" stroke="#7aad3c" stroke-width="0.9" stroke-linejoin="miter"/></g>
<text x="601.60" y="238.6" font-size="7.6" fill="#222" textLength="73.5" lengthAdjust="spacing"><tspan font-style="italic">θ</tspan> = <tspan font-style="italic">π</tspan>/4, <tspan font-style="italic">ϕ</tspan> = arctan √<tspan text-decoration="overline">2</tspan></text>
<text x="533.10" y="292.3" font-size="14.8" text-anchor="middle" fill="#111" stroke="#111" stroke-width="0.25">(b)</text>
</g></svg>
</body></html>
